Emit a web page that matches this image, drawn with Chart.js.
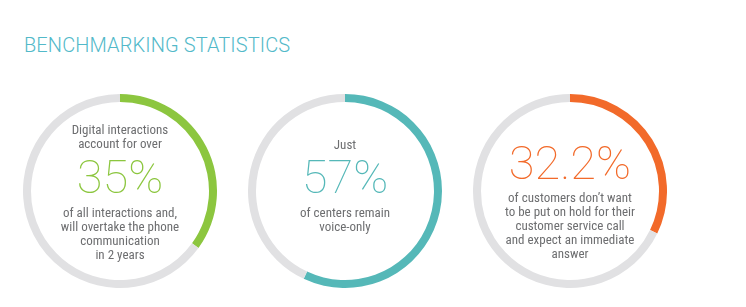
<!DOCTYPE html>
<html>
<head>
<meta charset="utf-8">
<script src="https://cdn.jsdelivr.net/npm/chart.js@4"></script>
<style>
  body { margin: 0; background: #fff; }
  #wrap { position: relative; width: 746px; height: 307px; overflow: hidden; }
  h1 {
    position: absolute; left: 24px; top: 33px; margin: 0;
    font: 300 20px Roboto, sans-serif; color: #52b9c9; letter-spacing: 0.1px;
    line-height: 24px;
  }
  .ring { position: absolute; width: 194px; height: 194px; }
  .txt {
    position: absolute; width: 200px; text-align: center;
    font-family: "Liberation Sans Narrow", "Roboto Condensed", Roboto, sans-serif;
    font-size: 13px; color: #6d6e70; line-height: 14px;
  }
  .big {
    position: absolute; width: 200px; text-align: center;
    font: 100 47px Roboto, sans-serif; line-height: 48px;
  }
</style>
</head>
<body>
<div id="wrap">
  <h1>BENCHMARKING STATISTICS</h1>
</div>
<script>
// data
const values = [35, 57, 32.2];
const bigLabels = ['35%', '57%', '32.2%'];
const headTexts = [
  ['Digital interactions', 'account for over'],
  ['Just'],
  []
];
const footTexts = [
  ['of all interactions and,', 'will overtake the phone', 'communication', 'in 2 years'],
  ['of centers remain', 'voice-only'],
  ["of customers don\u2019t want", 'to be put on hold for their', 'customer service call', 'and expect an immediate', 'answer']
];
const colors = ['#8cc63f', '#55b8b8', '#f26a2a'];
const restColor = '#e1e1e3';

// layout (center of each ring + text tops)
const centers = [[120, 191], [345, 191], [570, 191]];
const headTop = [123, 138, 0];
const bigTop = [153, 153, 139];
const footTop = [206, 206, 191];

const wrap = document.getElementById('wrap');

values.forEach((v, i) => {
  const [cx, cy] = centers[i];
  const box = document.createElement('div');
  box.className = 'ring';
  box.style.left = (cx - 97) + 'px';
  box.style.top = (cy - 97) + 'px';
  const cv = document.createElement('canvas');
  cv.width = 194; cv.height = 194;
  box.appendChild(cv);
  wrap.appendChild(box);

  new Chart(cv, {
    type: 'doughnut',
    data: {
      labels: ['value', 'rest'],
      datasets: [{
        data: [v, 100 - v],
        backgroundColor: [colors[i], restColor],
        borderWidth: 0
      }]
    },
    options: {
      responsive: false,
      animation: false,
      cutout: 89,
      plugins: { legend: { display: false }, tooltip: { enabled: false } }
    }
  });

  if (headTexts[i].length) {
    const h = document.createElement('div');
    h.className = 'txt';
    h.style.left = (cx - 100) + 'px';
    h.style.top = headTop[i] + 'px';
    h.innerHTML = headTexts[i].join('<br>');
    wrap.appendChild(h);
  }
  const b = document.createElement('div');
  b.className = 'big';
  b.style.left = (cx - 100) + 'px';
  b.style.top = bigTop[i] + 'px';
  b.style.color = colors[i];
  b.textContent = bigLabels[i];
  wrap.appendChild(b);

  const f = document.createElement('div');
  f.className = 'txt';
  f.style.left = (cx - 100) + 'px';
  f.style.top = footTop[i] + 'px';
  f.innerHTML = footTexts[i].join('<br>');
  wrap.appendChild(f);
});
</script>
</body>
</html>
